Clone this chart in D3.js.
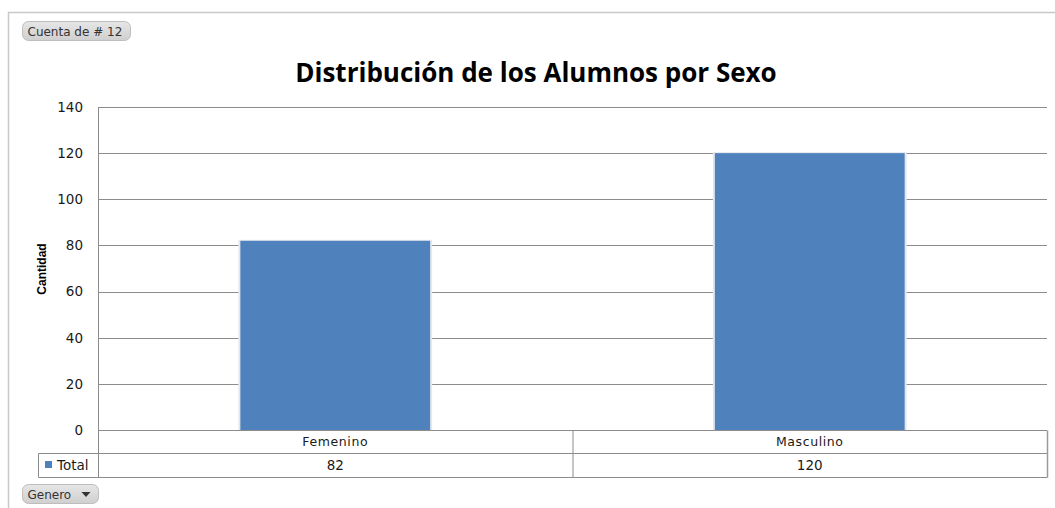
<!DOCTYPE html>
<html>
<head>
<meta charset="utf-8">
<script src="https://cdn.jsdelivr.net/npm/d3@7"></script>
<style>
  body { margin: 0; background: #fff; }
  svg { display: block; }
</style>
</head>
<body>
<script>
const categories = ['Femenino', 'Masculino']
const values = [82, 120]
const seriesName = 'Total'
const yTicks = [0, 20, 40, 60, 80, 100, 120, 140]
const title = 'Distribución de los Alumnos por Sexo'

const width = 1055, height = 508
const plot = {left: 98, right: 1047, top: 107, bottom: 430}

const svg = d3.select('body').append('svg')
  .attr('width', width)
  .attr('height', height)

// outer frame
svg.append('path')
  .attr('d', `M8.5,${height} V12.5 H${width}`)
  .attr('fill', 'none')
  .attr('stroke', '#c8c8c8')
  .attr('stroke-width', 1.5)

// field buttons
function button(x, y, w, label, arrow) {
  const g = svg.append('g').attr('transform', `translate(${x},${y})`)
  const grad = 'grad' + label.replace(/\W/g, '')
  const lg = svg.append('defs').append('linearGradient')
    .attr('id', grad).attr('x1', 0).attr('y1', 0).attr('x2', 0).attr('y2', 1)
  lg.append('stop').attr('offset', 0).attr('stop-color', '#e6e6e6')
  lg.append('stop').attr('offset', 1).attr('stop-color', '#cfcfcf')
  g.append('rect')
    .attr('width', w).attr('height', 19).attr('rx', 6)
    .attr('fill', `url(#${grad})`)
    .attr('stroke', '#bdbdbd')
  g.append('text')
    .attr('x', 5).attr('y', 14)
    .attr('font-family', 'DejaVu Sans, Verdana, sans-serif')
    .attr('font-size', 12)
    .attr('fill', '#333')
    .text(label)
  if (arrow) {
    g.append('path')
      .attr('d', `M${w - 17},7.5 h9 l-4.5,5 z`)
      .attr('fill', '#333')
  }
}
button(22.5, 21.5, 108, 'Cuenta de # 12', false)
button(22.5, 484.5, 76, 'Genero', true)

// title
svg.append('text')
  .attr('x', 536).attr('y', 82)
  .attr('text-anchor', 'middle')
  .attr('font-family', 'Open Sans, DejaVu Sans, sans-serif')
  .attr('font-weight', 'bold')
  .attr('font-size', 26)
  .attr('fill', '#000')
  .text(title)

const x = d3.scaleBand()
  .domain(categories)
  .range([plot.left, plot.right])
  .paddingInner(0.6)
  .paddingOuter(0.3)

const band = d3.scaleBand()
  .domain(categories)
  .range([plot.left, plot.right])

const y = d3.scaleLinear()
  .domain([0, 140])
  .range([plot.bottom, plot.top])

// gridlines
svg.append('g')
  .selectAll('line')
  .data(yTicks)
  .join('line')
  .attr('x1', plot.left).attr('x2', plot.right)
  .attr('y1', d => Math.round(y(d)) + 0.5)
  .attr('y2', d => Math.round(y(d)) + 0.5)
  .attr('stroke', '#8c8c8c')

// y axis line
svg.append('line')
  .attr('x1', plot.left + 0.5).attr('x2', plot.left + 0.5)
  .attr('y1', plot.top).attr('y2', plot.bottom)
  .attr('stroke', '#8c8c8c')

// y tick labels
const yAxis = svg.append('g')
  .attr('transform', `translate(${plot.left},0)`)
  .call(d3.axisLeft(y).tickValues(yTicks).tickSize(0).tickPadding(15))
yAxis.select('.domain').remove()
yAxis.selectAll('text')
  .attr('font-family', 'DejaVu Sans, Verdana, sans-serif')
  .attr('font-size', 13.5)
  .attr('fill', '#1a1a1a')

// y title
svg.append('text')
  .attr('transform', 'translate(46,269) rotate(-90)')
  .attr('text-anchor', 'middle')
  .attr('font-family', 'Liberation Sans Narrow, Liberation Sans, sans-serif')
  .attr('font-weight', 'bold')
  .attr('font-size', 12)
  .attr('fill', '#000')
  .text('Cantidad')

// bar shadows + bars
const bars = svg.append('g')
bars.selectAll('rect.shadow')
  .data(values)
  .join('rect')
  .attr('class', 'shadow')
  .attr('x', (d, i) => x(categories[i]) - 2)
  .attr('y', d => y(d) - 1)
  .attr('width', x.bandwidth() + 4)
  .attr('height', d => plot.bottom - y(d) + 1)
  .attr('fill', '#e4e8ee')
bars.selectAll('rect.bar')
  .data(values)
  .join('rect')
  .attr('class', 'bar')
  .attr('x', (d, i) => x(categories[i]))
  .attr('y', d => y(d))
  .attr('width', x.bandwidth())
  .attr('height', d => plot.bottom - y(d))
  .attr('fill', '#4f81bd')

// data table
const row1 = plot.bottom, row2 = 453, row3 = 477, tableLeft = 38
const tbl = svg.append('g')
  .attr('fill', 'none')
  .attr('stroke', '#8c8c8c')
tbl.append('path')
  .attr('d', `M${plot.left + 0.5},${row1 + 0.5} V${row3 + 0.5}` +
    ` M${tableLeft + 0.5},${row2 + 0.5} H${plot.right + 0.5}` +
    ` M${tableLeft + 0.5},${row2 + 0.5} V${row3 + 0.5} H${plot.right + 0.5}`)
tbl.append('path')
  .attr('d', `M${plot.right + 0.5},${row1 + 0.5} V${row3 + 0.5}`)
  .attr('stroke', '#9a9a9a')
  .attr('stroke-width', 1.5)
tbl.selectAll('line.sep')
  .data(categories.slice(1))
  .join('line')
  .attr('class', 'sep')
  .attr('x1', d => band(d) + 0.5).attr('x2', d => band(d) + 0.5)
  .attr('y1', row1).attr('y2', row3)

const tf = 'DejaVu Sans, Verdana, sans-serif'
svg.append('g').selectAll('text')
  .data(categories)
  .join('text')
  .attr('x', d => band(d) + band.bandwidth() / 2)
  .attr('y', row1 + 16)
  .attr('text-anchor', 'middle')
  .attr('font-family', tf)
  .attr('font-size', 12.5)
  .attr('letter-spacing', 0.6)
  .attr('fill', '#1a1a1a')
  .text(d => d)
svg.append('g').selectAll('text')
  .data(values)
  .join('text')
  .attr('x', (d, i) => band(categories[i]) + band.bandwidth() / 2)
  .attr('y', row2 + 17)
  .attr('text-anchor', 'middle')
  .attr('font-family', tf)
  .attr('font-size', 13.5)
  .attr('fill', '#1a1a1a')
  .text(d => d)

// legend key in table
svg.append('rect')
  .attr('x', 45).attr('y', 461)
  .attr('width', 7).attr('height', 7)
  .attr('fill', '#4f81bd')
svg.append('text')
  .attr('x', 57).attr('y', 470)
  .attr('font-family', tf)
  .attr('font-size', 13.5)
  .attr('fill', '#1a1a1a')
  .text(seriesName)
</script>
</body>
</html>
